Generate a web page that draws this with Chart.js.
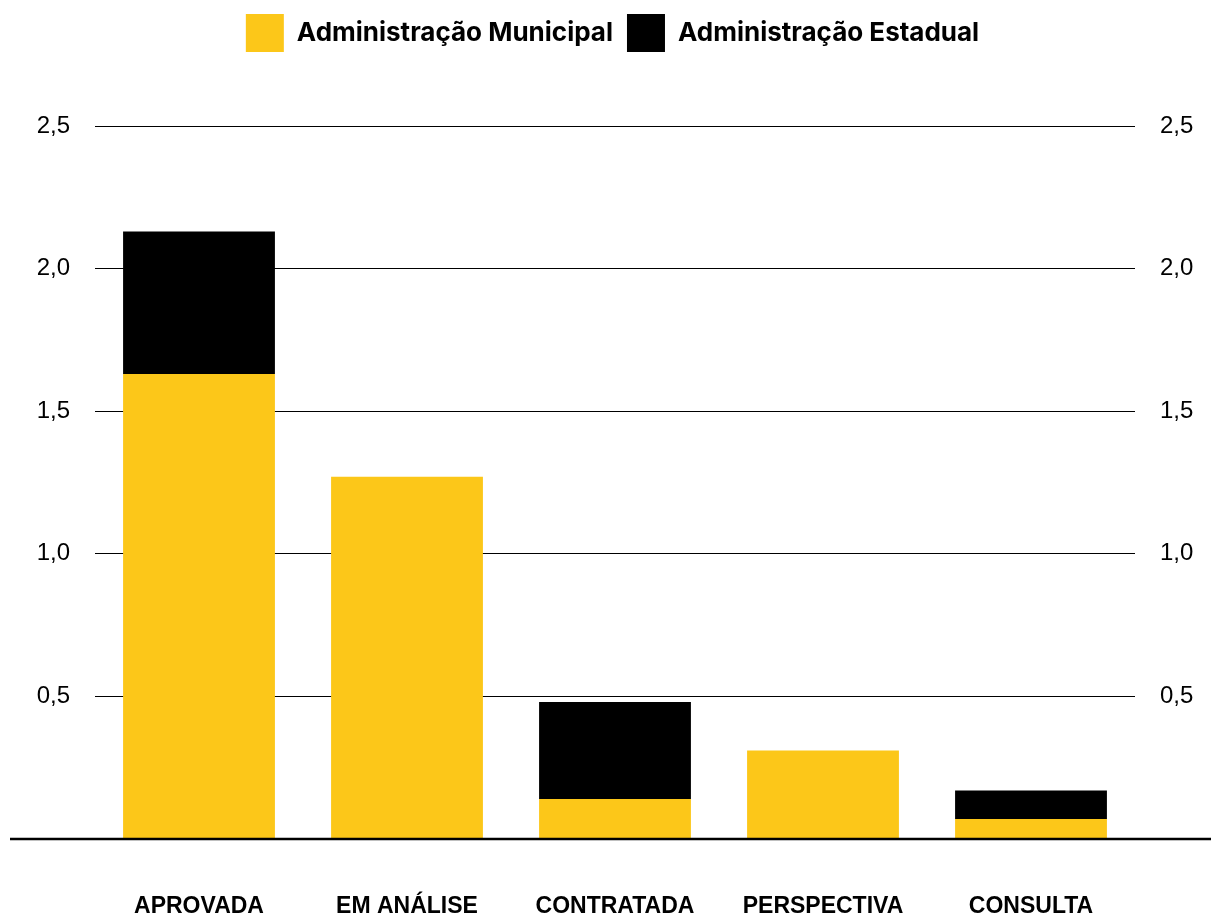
<!DOCTYPE html>
<html>
<head>
<meta charset="utf-8">
<script src="https://cdn.jsdelivr.net/npm/chart.js@4/dist/chart.umd.min.js"></script>
<style>
  html, body { margin: 0; padding: 0; background: #fff; }
  #wrap { width: 1211px; height: 918px; }
</style>
</head>
<body>
<div id="wrap"><canvas id="chart" width="1211" height="918"></canvas></div>
<script>
const categories = ['APROVADA', 'EM ANÁLISE', 'CONTRATADA', 'PERSPECTIVA', 'CONSULTA'];
const municipal = [1.63, 1.27, 0.14, 0.31, 0.07];
const estadual = [0.50, 0, 0.34, 0, 0.10];
const yTicks = [0, 0.5, 1.0, 1.5, 2.0, 2.5];

const YELLOW = '#FCC719';

// thick baseline running the full width at value 0
const baseline = {
    id: 'baseline',
    afterDatasetsDraw(chart) {
        const ctx = chart.ctx;
        const y = chart.scales.y.getPixelForValue(0);
        ctx.save();
        ctx.strokeStyle = '#000';
        ctx.lineWidth = 2.5;
        ctx.beginPath();
        ctx.moveTo(10, y);
        ctx.lineTo(chart.width, y);
        ctx.stroke();
        ctx.restore();
    }
};

// extra room under the legend
const legendSpace = {
    id: 'legendSpace',
    beforeInit(chart) {
        const fit = chart.legend.fit;
        chart.legend.fit = function () {
            fit.bind(chart.legend)();
            this.height += 64;
        };
    }
};

const fmt = v => v === 0 ? '' : v.toFixed(1).replace('.', ',');

const tickFont = { family: '"Liberation Sans", Arial, sans-serif', size: 24 };

new Chart(document.getElementById('chart'), {
    type: 'bar',
    data: {
        labels: categories,
        datasets: [
            { label: 'Administração Municipal', data: municipal, backgroundColor: YELLOW },
            { label: 'Administração Estadual', data: estadual, backgroundColor: '#000' }
        ]
    },
    options: {
        responsive: false,
        animation: false,
        layout: { padding: { top: 0, bottom: 0, left: 14, right: 0 } },
        barPercentage: 0.73,
        categoryPercentage: 1,
        plugins: {
            legend: {
                position: 'top',
                labels: {
                    boxWidth: 38,
                    boxHeight: 38,
                    padding: 14,
                    color: '#000',
                    font: { family: 'Inter, "Noto Sans", sans-serif', size: 26, weight: 'bold' }
                }
            },
            tooltip: { enabled: false }
        },
        scales: {
            x: {
                stacked: true,
                grid: { display: false },
                border: { display: false },
                afterFit: s => { s.height = 79; },
                ticks: {
                    color: '#000',
                    padding: 46,
                    font: { family: '"Liberation Sans", Arial, sans-serif', size: 23, weight: 'bold' }
                }
            },
            y: {
                stacked: true,
                position: 'left',
                min: 0,
                max: 2.5,
                afterBuildTicks: s => { s.ticks = yTicks.map(v => ({ value: v })); },
                afterFit: s => { s.width = 81; },
                grid: {
                    color: ctx => ctx.tick && ctx.tick.value === 0 ? 'rgba(0,0,0,0)' : '#000',
                    lineWidth: 1,
                    drawTicks: false
                },
                border: { display: false },
                ticks: { color: '#000', padding: 25, font: tickFont, callback: fmt }
            },
            y2: {
                position: 'right',
                min: 0,
                max: 2.5,
                afterBuildTicks: s => { s.ticks = yTicks.map(v => ({ value: v })); },
                afterFit: s => { s.width = 76; },
                grid: { display: false, drawTicks: false },
                border: { display: false },
                ticks: { color: '#000', padding: 25, font: tickFont, callback: fmt }
            }
        }
    },
    plugins: [baseline, legendSpace]
});
</script>
</body>
</html>
